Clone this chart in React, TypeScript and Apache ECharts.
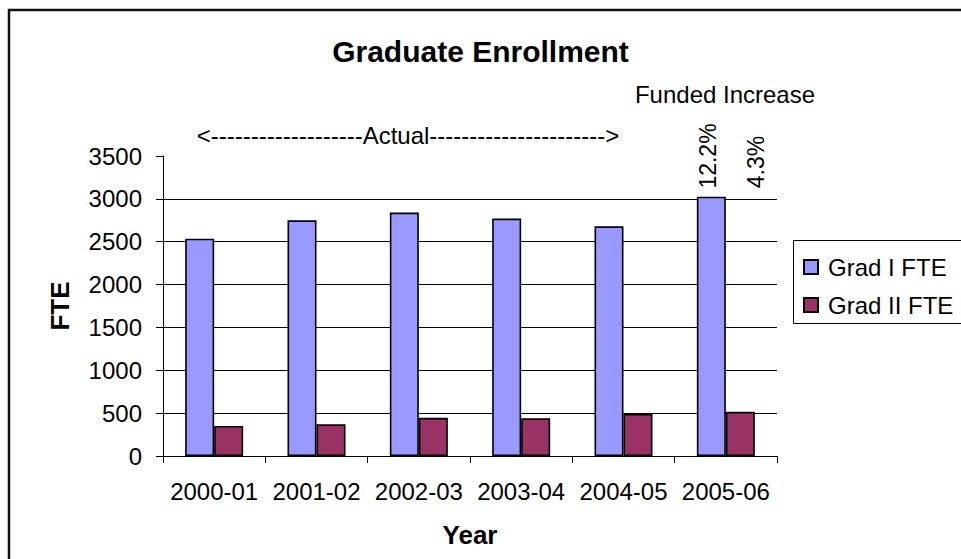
import React, { useEffect, useRef } from "react";
import * as echarts from "echarts";

const years = ["2000-01", "2001-02", "2002-03", "2003-04", "2004-05", "2005-06"];
const gradI = [2535, 2750, 2840, 2770, 2680, 3025];
const gradII = [350, 370, 445, 440, 490, 515];
const seriesNames = ["Grad I FTE", "Grad II FTE"];
const increaseLabels = ["12.2%", "4.3%"];
const titleText = "Graduate Enrollment";
const actualText = "<" + "-".repeat(19) + "Actual" + "-".repeat(22) + ">";
const fundedText = "Funded Increase";

const FONT = "'Liberation Sans', Arial, sans-serif";

export default function App() {
  const ref = useRef<HTMLDivElement>(null);
  useEffect(() => {
    if (!ref.current) return;
    const chart = echarts.init(ref.current, undefined, { renderer: "svg" });
    chart.setOption({
      animation: false,
      backgroundColor: "#fff",
      textStyle: { fontFamily: FONT, color: "#000" },
      title: {
        text: titleText,
        left: "center",
        top: 36,
        padding: 0,
        textStyle: { fontFamily: FONT, fontSize: 30, fontWeight: "bold", color: "#000" },
      },
      legend: {
        orient: "vertical",
        left: 803,
        top: 255,
        padding: 0,
        itemWidth: 14,
        itemHeight: 14,
        itemGap: 14,
        icon: "rect",
        data: seriesNames,
        textStyle: { fontFamily: FONT, fontSize: 24, color: "#000", padding: [0, 0, 0, 5] },
      },
      grid: { left: 163, top: 156, width: 614, height: 300, containLabel: false },
      xAxis: {
        type: "category",
        data: years,
        name: "Year",
        nameLocation: "middle",
        nameGap: 66,
        nameTextStyle: { fontFamily: FONT, fontSize: 26, fontWeight: "bold", color: "#000" },
        axisLine: { show: true, lineStyle: { color: "#000", width: 1 } },
        axisTick: { show: true, alignWithLabel: false, length: 7, lineStyle: { color: "#000" } },
        axisLabel: { interval: 0, margin: 23, fontFamily: FONT, fontSize: 24, color: "#000" },
        splitLine: { show: false },
      },
      yAxis: {
        type: "value",
        min: 0,
        max: 3500,
        interval: 500,
        name: "FTE",
        nameLocation: "middle",
        nameGap: 90,
        nameTextStyle: { fontFamily: FONT, fontSize: 26, fontWeight: "bold", color: "#000" },
        axisLine: { show: true, lineStyle: { color: "#000", width: 1 } },
        axisTick: { show: true, length: 7, lineStyle: { color: "#000" } },
        axisLabel: {
          margin: 21,
          fontFamily: FONT,
          fontSize: 24,
          color: "#000",
          formatter: (v: number) => String(v),
        },
        splitLine: { show: true, showMaxLine: false, showMinLine: false, lineStyle: { color: "#000", width: 1 } },
      },
      series: [
        {
          name: seriesNames[0],
          type: "bar",
          data: gradI,
          barWidth: 29,
          barGap: "0%",
          itemStyle: { color: "#9999FF", borderColor: "#000", borderWidth: 1.6, borderType: "solid" },
        },
        {
          name: seriesNames[1],
          type: "bar",
          data: gradII,
          barWidth: 29,
          barGap: "0%",
          itemStyle: { color: "#993366", borderColor: "#000", borderWidth: 1.6, borderType: "solid" },
        },
      ],
      graphic: [
        {
          type: "rect",
          silent: true,
          shape: { x: 9, y: 10, width: 1000, height: 600 },
          style: { fill: "none", stroke: "#111", lineWidth: 2.5 },
          z: 100,
        },
        {
          type: "rect",
          silent: true,
          shape: { x: 793.5, y: 240.5, width: 200, height: 83 },
          style: { fill: "none", stroke: "#000", lineWidth: 1 },
          z: 100,
        },
        {
          type: "text",
          x: 725,
          y: 94,
          style: { text: fundedText, font: `24px ${FONT}`, fill: "#000", align: "center", verticalAlign: "middle" },
        },
        {
          type: "text",
          x: 408,
          y: 135,
          style: { text: actualText, font: `24px ${FONT}`, fill: "#000", align: "center", verticalAlign: "middle" },
        },
        {
          type: "text",
          x: 708,
          y: 156,
          rotation: Math.PI / 2,
          style: { text: increaseLabels[0], font: `23px ${FONT}`, fill: "#000", align: "center", verticalAlign: "middle" },
        },
        {
          type: "text",
          x: 756,
          y: 162,
          rotation: Math.PI / 2,
          style: { text: increaseLabels[1], font: `23px ${FONT}`, fill: "#000", align: "center", verticalAlign: "middle" },
        },
      ],
    });
    return () => chart.dispose();
  }, []);
  return (
    <div
      ref={ref}
      style={{ position: "fixed", left: 0, top: 0, width: 961, height: 559 }}
    />
  );
}
